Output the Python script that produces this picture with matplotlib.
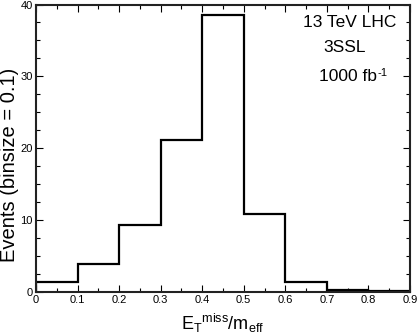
import matplotlib
matplotlib.use("Agg")
import matplotlib.pyplot as plt
from matplotlib.ticker import MultipleLocator
import numpy as np

plt.rcParams['font.family'] = ['Liberation Sans', 'DejaVu Sans']
plt.rcParams['mathtext.fontset'] = 'custom'
plt.rcParams['mathtext.rm'] = 'Liberation Sans'
plt.rcParams['mathtext.it'] = 'Liberation Sans'

bin_edges = [0.0, 0.1, 0.2, 0.3, 0.4, 0.5, 0.6, 0.7, 0.8, 0.9]
events = [1.3, 3.8, 9.3, 21.1, 38.6, 10.8, 1.4, 0.2, 0.05]
tick_labels = ['0', '0.1', '0.2', '0.3', '0.4', '0.5', '0.6', '0.7', '0.8', '0.9']

fig = plt.figure(figsize=(4.2, 3.34), dpi=100)
ax = fig.add_axes([0.0857, 0.127, 0.8903, 0.8595])

ax.stairs(events, bin_edges, color='black', linewidth=1.6)

ax.set_xlim(0, 0.9)
ax.set_ylim(0, 40)
ax.set_xticks(bin_edges)
ax.set_xticklabels(tick_labels)
ax.xaxis.set_minor_locator(MultipleLocator(0.05))
ax.yaxis.set_major_locator(MultipleLocator(10))
ax.yaxis.set_minor_locator(MultipleLocator(2.5))
ax.tick_params(which='both', direction='in', top=True, right=True, labelsize=8, pad=2.5)
ax.tick_params(which='major', length=5, width=0.8)
ax.tick_params(which='minor', length=3, width=0.8)
for s in ax.spines.values():
    s.set_linewidth(1.5)
    s.set_color('#222222')

ax.set_xlabel(r'E$_\mathregular{T}$$^\mathregular{miss}$/m$_\mathregular{eff}$', fontsize=13, labelpad=5)
ax.set_ylabel('Events (binsize = 0.1)', fontsize=14.5, labelpad=1)
ax.yaxis.label.set_y(0.44)

ax.text(0.84, 0.9206, '13 TeV LHC', transform=ax.transAxes, ha='center', va='baseline', fontsize=12.5)
ax.text(0.826, 0.8355, '3SSL', transform=ax.transAxes, ha='center', va='baseline', fontsize=12.5)
t = ax.text(0.835, 0.7334, '1000 fb', transform=ax.transAxes, ha='center', va='baseline', fontsize=12.5)
ax.annotate('-1', xy=(1.0, 1.0), xycoords=t, xytext=(0.5, 1), textcoords='offset points',
            ha='left', va='top', fontsize=8)

fig.savefig('out.png', dpi=100)
